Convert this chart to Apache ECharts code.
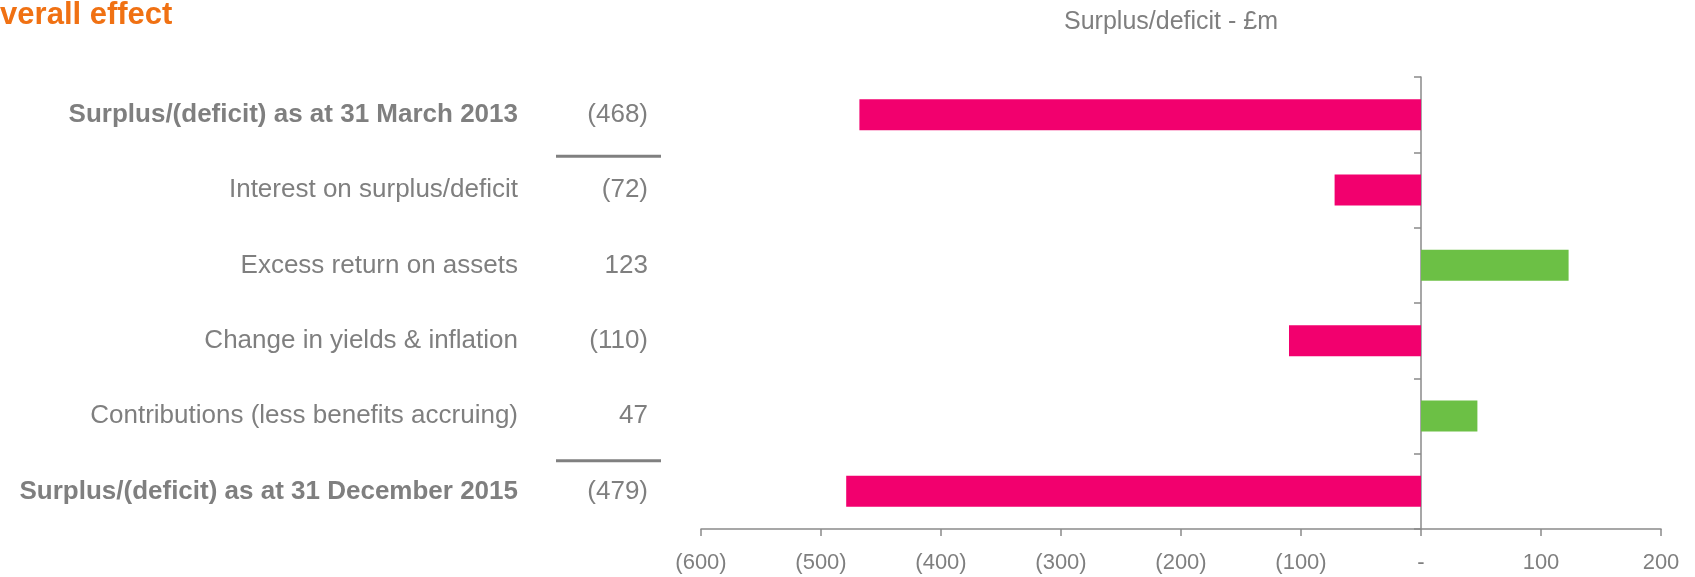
<!DOCTYPE html>
<html>
<head>
<meta charset="utf-8">
<script src="https://cdn.jsdelivr.net/npm/echarts@6/dist/echarts.min.js"></script>
<style>
html,body{margin:0;padding:0;background:#fff;}
#chart{width:1695px;height:577px;}
</style>
</head>
<body>
<div id="chart"></div>
<script>
const categories = [
  'Surplus/(deficit) as at 31 March 2013',
  'Interest on surplus/deficit',
  'Excess return on assets',
  'Change in yields & inflation',
  'Contributions (less benefits accruing)',
  'Surplus/(deficit) as at 31 December 2015'
];
const values = [-468, -72, 123, -110, 47, -479];
const boldRows = [0, 5];
const separatorsAfter = [0, 4];
const chartTitle = 'Overall effect';
const axisTitle = 'Surplus/deficit - £m';

const PINK = '#F2006E';
const GREEN = '#6CC045';
const GREY = '#7F7F7F';
const LINE = '#8A8A8A';
const FONT = 'Liberation Sans, Arial, sans-serif';

function fmt(v){ return v < 0 ? '(' + (-v) + ')' : (v === 0 ? '-' : String(v)); }

const chart = echarts.init(document.getElementById('chart'));
const option = {
  animation: false,
  textStyle: { fontFamily: FONT },
  title: [
    { text: chartTitle, left: -29, top: -5,
      textStyle: { color: '#F07113', fontSize: 31, fontWeight: 'bold', fontFamily: FONT } },
    { text: axisTitle, left: 1166, top: 5, textAlign: 'center',
      textStyle: { color: GREY, fontSize: 25, fontWeight: 'normal', fontFamily: FONT } }
  ],
  grid: { left: 701, right: 34, top: 77, bottom: 48, containLabel: false },
  xAxis: {
    type: 'value', min: -600, max: 200, interval: 100,
    axisLine: { show: true, onZero: false, lineStyle: { color: LINE, width: 1.5 } },
    axisTick: { show: true, length: 7, lineStyle: { color: LINE, width: 1.5 } },
    splitLine: { show: false },
    axisLabel: { formatter: fmt, color: GREY, fontSize: 22, margin: 23 }
  },
  yAxis: [
    { type: 'category', data: categories, inverse: true, position: 'left',
      axisLine: { show: false, onZero: false }, axisTick: { show: false },
      axisLabel: {
        margin: 183, color: GREY, fontSize: 26,
        formatter: (v, i) => boldRows.includes(i) ? '{b|' + v + '}' : v,
        rich: { b: { fontWeight: 'bold', fontSize: 26, color: GREY } }
      } },
    { type: 'category', data: values.map(fmt), inverse: true, position: 'left',
      axisLine: { show: false, onZero: false }, axisTick: { show: false },
      axisLabel: { margin: 53, color: GREY, fontSize: 26 } },
    { type: 'category', data: categories, inverse: true, position: 'left',
      axisLine: { show: true, onZero: true, onZeroAxisIndex: 0, lineStyle: { color: LINE, width: 1.5 } },
      axisTick: { show: true, length: 7, lineStyle: { color: LINE, width: 1.5 } },
      axisLabel: { show: false } }
  ],
  series: [{
    type: 'bar', yAxisIndex: 0, barWidth: 31,
    data: values.map(v => ({ value: v, itemStyle: { color: v < 0 ? PINK : GREEN } }))
  }]
};
chart.setOption(option);

// separator lines under/above the summary rows, positioned via the axis scale
const offsets = [4, 7];
const g = [];
separatorsAfter.forEach((i, k) => {
  const y0 = chart.convertToPixel({ yAxisIndex: 0 }, categories[i]);
  const y1 = chart.convertToPixel({ yAxisIndex: 0 }, categories[i + 1]);
  const y = (y0 + y1) / 2 + offsets[k];
  g.push({ type: 'line', shape: { x1: 556, y1: y, x2: 661, y2: y },
           style: { stroke: '#808080', lineWidth: 3 } });
});
chart.setOption({ graphic: g });
</script>
</body>
</html>
